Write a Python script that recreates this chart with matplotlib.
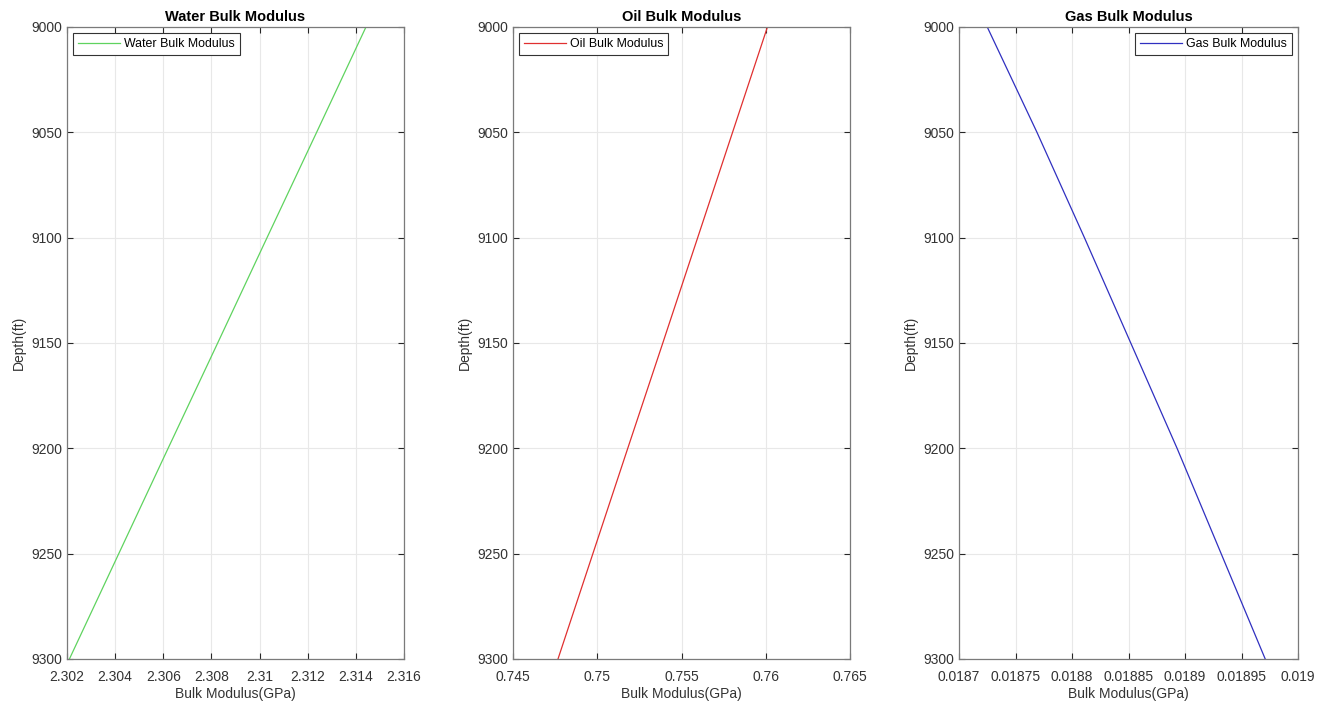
import numpy as np
import matplotlib.pyplot as plt

plt.rcParams['font.family'] = ['Liberation Sans', 'DejaVu Sans']

# depth samples (ft) and bulk moduli (GPa)
depth = [9000, 9050, 9100, 9150, 9200, 9250, 9300]
k_water = [2.31442, 2.31237, 2.31031, 2.30826, 2.30620, 2.30415, 2.30210]
k_oil = [0.76010, 0.75803, 0.75596, 0.75389, 0.75181, 0.74974, 0.74767]
k_gas = [0.018725, 0.018769, 0.018811, 0.018852, 0.018893, 0.018932, 0.018971]

water_ticks = [2.302, 2.304, 2.306, 2.308, 2.31, 2.312, 2.314, 2.316]
water_labels = ['2.302', '2.304', '2.306', '2.308', '2.31', '2.312', '2.314', '2.316']
oil_ticks = [0.745, 0.75, 0.755, 0.76, 0.765]
oil_labels = ['0.745', '0.75', '0.755', '0.76', '0.765']
gas_ticks = [0.0187, 0.01875, 0.0188, 0.01885, 0.0189, 0.01895, 0.019]
gas_labels = ['0.0187', '0.01875', '0.0188', '0.01885', '0.0189', '0.01895', '0.019']
depth_ticks = [9000, 9050, 9100, 9150, 9200, 9250, 9300]

panels = [
    ('Water Bulk Modulus', k_water, '#5fd35f', water_ticks, water_labels, 'upper left'),
    ('Oil Bulk Modulus', k_oil, '#e03030', oil_ticks, oil_labels, 'upper left'),
    ('Gas Bulk Modulus', k_gas, '#3030c0', gas_ticks, gas_labels, 'upper right'),
]
lefts = [67, 513, 959]
widths = [337, 337, 339]

fig = plt.figure(figsize=(13.27, 7.07), dpi=100)
for (title, vals, col, xt, xl, loc), l, w in zip(panels, lefts, widths):
    ax = fig.add_axes([l / 1327, 1 - 659 / 707, w / 1327, 632 / 707])
    ax.plot(vals, depth, color=col, lw=0.9, label=title)
    ax.set_xlim(xt[0], xt[-1])
    ax.set_ylim(9300, 9000)
    ax.set_xticks(xt)
    ax.set_xticklabels(xl)
    ax.set_yticks(depth_ticks)
    ax.grid(True, color='#e8e8e8', lw=0.8)
    ax.set_axisbelow(True)
    ax.tick_params(direction='in', top=True, right=True, length=4, width=0.8,
                   labelsize=10, colors='#262626', labelcolor='#333333')
    ax.tick_params(axis='x', pad=8)
    for s in ax.spines.values():
        s.set_color('#7a7a7a')
        s.set_linewidth(0.9)
    ax.set_title(title, fontsize=10.5, fontweight='bold', pad=4)
    ax.set_xlabel('Bulk Modulus(GPa)', fontsize=10, color='#333333', labelpad=2)
    ax.set_ylabel('Depth(ft)', fontsize=10, color='#333333', labelpad=4)
    leg = ax.legend(loc=loc, fontsize=8.9, fancybox=False, framealpha=1,
                    edgecolor='#333333', handlelength=3.4, handletextpad=0.3,
                    borderaxespad=0.5)
    leg.get_frame().set_linewidth(0.8)

fig.savefig('out.png', dpi=100)
